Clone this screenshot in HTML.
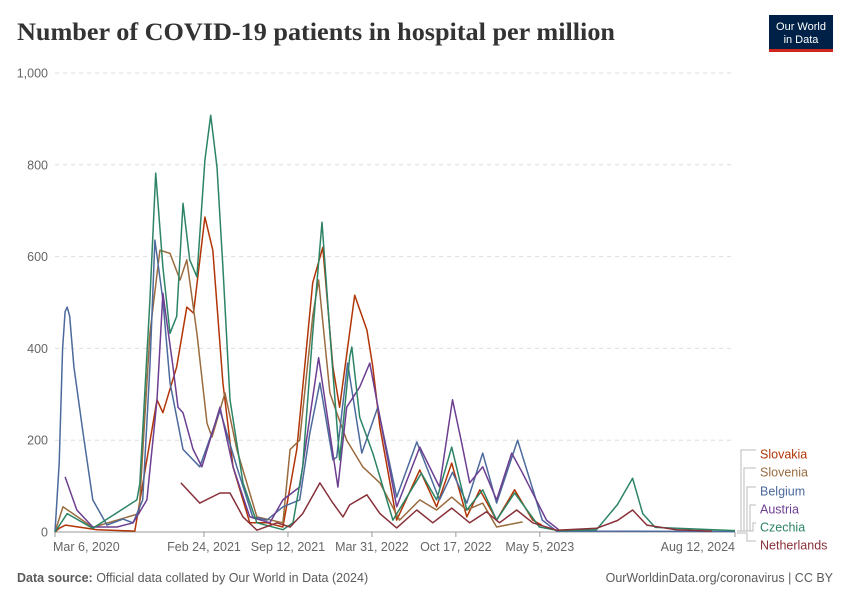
<!DOCTYPE html>
<html><head><meta charset="utf-8">
<style>
body{margin:0;background:#fff;}
svg text{font-family:"Liberation Sans",sans-serif;}
</style></head>
<body>
<svg id="chart" width="850" height="600" viewBox="0 0 850 600" xmlns="http://www.w3.org/2000/svg">
<rect width="850" height="600" fill="#fff"/>
<text x="17" y="40" font-size="25" font-weight="bold" fill="#333" textLength="598" lengthAdjust="spacingAndGlyphs" style="font-family:'Liberation Serif',serif">Number of COVID-19 patients in hospital per million</text>
<g>
<rect x="769" y="15" width="64" height="35" fill="#002147"/>
<rect x="769" y="49" width="64" height="3" fill="#ce261e"/>
<text x="801" y="30" text-anchor="middle" font-size="11" fill="#fff">Our World</text>
<text x="801" y="43" text-anchor="middle" font-size="11" fill="#fff">in Data</text>
</g>
<g id="grid"></g>
<g id="xaxis"></g>
<g id="lines"></g>
<g id="legend"></g>
<text x="17" y="582" font-size="12.5" fill="#5b5b5b"><tspan font-weight="bold">Data source:</tspan> Official data collated by Our World in Data (2024)</text>
<text x="833" y="582" text-anchor="end" font-size="12.5" fill="#5b5b5b">OurWorldinData.org/coronavirus | CC BY</text>
</svg>
<script>
// data: day offsets since Mar 6, 2020 and hospital patients per million
const yTicks = [0, 200, 400, 600, 800, 1000];
const yTickLabels = ["0", "200", "400", "600", "800", "1,000"];
const xTickDays = [0, 355, 555, 755, 955, 1155, 1620];
const xTickLabels = ["Mar 6, 2020", "Feb 24, 2021", "Sep 12, 2021", "Mar 31, 2022", "Oct 17, 2022", "May 5, 2023", "Aug 12, 2024"];
const seriesNames = ["Slovakia", "Slovenia", "Belgium", "Austria", "Czechia", "Netherlands"];

const belgiumDays = [0,10,18,24,29,35,45,67,90,124,162,186,209,226,238,257,274,305,345,393,433,471,505,543,583,607,631,662,671,697,731,769,814,862,916,947,981,1019,1052,1102,1161,1195,1620];
const belgiumVals = [0,150,400,480,490,470,360,215,70,15,28,20,70,360,636,505,325,180,142,265,142,33,26,55,70,215,325,157,163,368,172,272,76,196,70,130,63,172,63,200,26,2,1];

const czechiaDays = [0,29,90,195,202,226,240,257,274,290,305,321,338,357,371,386,400,417,448,481,543,567,590,614,636,655,678,702,707,726,757,805,873,909,945,981,1019,1052,1095,1154,1200,1290,1340,1376,1400,1430,1620];
const czechiaVals = [0,40,8,70,105,505,782,577,433,470,716,593,556,810,908,795,577,288,107,20,5,20,142,433,675,433,157,381,403,250,172,26,128,70,185,48,92,26,85,11,3,5,60,117,40,10,3];

const slovakiaDays = [0,10,25,100,190,243,257,290,314,330,357,376,400,424,464,505,543,576,614,638,662,678,714,743,757,774,814,869,909,945,981,1012,1052,1095,1138,1160];
const slovakiaVals = [0,8,15,5,2,288,260,360,490,477,686,614,325,142,20,20,11,180,543,620,360,272,516,440,360,229,26,135,55,150,33,92,26,92,26,15];

const sloveniaDays = [0,19,90,200,226,250,274,298,314,338,362,374,405,433,481,543,560,583,614,628,655,671,695,733,774,821,869,909,945,981,1019,1052,1114];
const sloveniaVals = [0,55,10,40,433,614,607,549,593,433,237,207,303,180,33,20,180,200,470,549,303,260,200,142,107,26,70,48,76,48,63,11,22];

const austriaDays = [24,52,90,148,186,219,243,257,281,293,305,329,350,393,424,464,512,543,583,607,628,655,674,695,726,750,774,814,869,916,947,969,988,1019,1052,1088,1114,1171,1200];
const austriaVals = [120,48,11,11,20,70,288,520,360,272,260,180,142,272,142,33,20,70,98,250,380,215,98,272,316,368,250,55,185,98,288,194,107,142,70,172,128,26,5];

const netherlandsDays = [300,345,393,417,448,481,529,560,590,631,662,686,702,743,774,814,862,900,945,988,1028,1059,1100,1138,1195,1290,1340,1376,1410,1480,1565];
const netherlandsVals = [107,63,85,85,33,4,20,11,40,107,63,33,59,81,40,9,48,20,52,20,44,20,48,20,4,8,25,48,15,5,2];

const colors = ["#b13507","#9a6b3f","#4c6a9c","#6d3e91","#2c8465","#883039"];
const allDays = [slovakiaDays, sloveniaDays, belgiumDays, austriaDays, czechiaDays, netherlandsDays];
const allVals = [slovakiaVals, sloveniaVals, belgiumVals, austriaVals, czechiaVals, netherlandsVals];

const X0 = 55, X1 = 735, Y0 = 532, Y1 = 73, DMAX = 1620, VMAX = 1000;
const xs = d => X0 + d / DMAX * (X1 - X0);
const ys = v => Y0 - v / VMAX * (Y0 - Y1);
const NS = "http://www.w3.org/2000/svg";
function mk(tag, attrs, parent) {
  const el = document.createElementNS(NS, tag);
  for (const k in attrs) el.setAttribute(k, attrs[k]);
  parent.appendChild(el);
  return el;
}
const grid = document.getElementById("grid");
yTicks.forEach((t, i) => {
  if (t > 0) {
    const gl = mk("line", {x1: X0, x2: X1, y1: ys(t), y2: ys(t), stroke: "#ddd", "stroke-dasharray": "4,4"}, grid);
    
    
  }
  const lb = mk("text", {x: 48, y: ys(t) + 4.5, "text-anchor": "end", "font-size": "12.5", fill: "#666"}, grid);
  
  
  lb.textContent = yTickLabels[i];
});
const xa = document.getElementById("xaxis");
const axl = mk("line", {x1: X0, x2: X1, y1: Y0, y2: Y0, stroke: "#999"}, xa);


xTickDays.forEach((d, i) => {
  const tk = mk("line", {x1: xs(d), x2: xs(d), y1: Y0, y2: Y0 + 5, stroke: "#999"}, xa);
  
  
  const anchor = i === 0 ? "start" : (i === xTickDays.length - 1 ? "end" : "middle");
  const lb = mk("text", {x: xs(d) + (i === 0 ? -2 : 0), y: 551, "text-anchor": anchor, "font-size": "12.5", fill: "#666"}, xa);
  
  
  lb.textContent = xTickLabels[i];
});
const lines = document.getElementById("lines");
allDays.forEach((days, s) => {
  const vals = allVals[s];
  const pts = days.map((d, i) => xs(d).toFixed(1) + "," + ys(vals[i]).toFixed(1)).join(" ");
  const pl = mk("polyline", {points: pts, fill: "none", stroke: colors[s], "stroke-width": 1.5, "stroke-linejoin": "round"}, lines);
  
  
});
const legend = document.getElementById("legend");
const labelY = [454, 472, 491, 509, 527, 545];
const bendX = [741, 744, 747, 750, 753, 747];
labelY.forEach((y, s) => {
  const endY = s === 5 ? 533 : 531;
  const p = mk("path", {d: "M737," + endY + " H" + bendX[s] + " V" + (y - 4) + " H756", fill: "none", stroke: "#bbb", "stroke-width": 1}, legend);
  
  
  const t = mk("text", {x: 760, y: y + 4.5, "font-size": "12.5", fill: colors[s]}, legend);
  
  
  t.textContent = seriesNames[s];
});
</script>
</body></html>
